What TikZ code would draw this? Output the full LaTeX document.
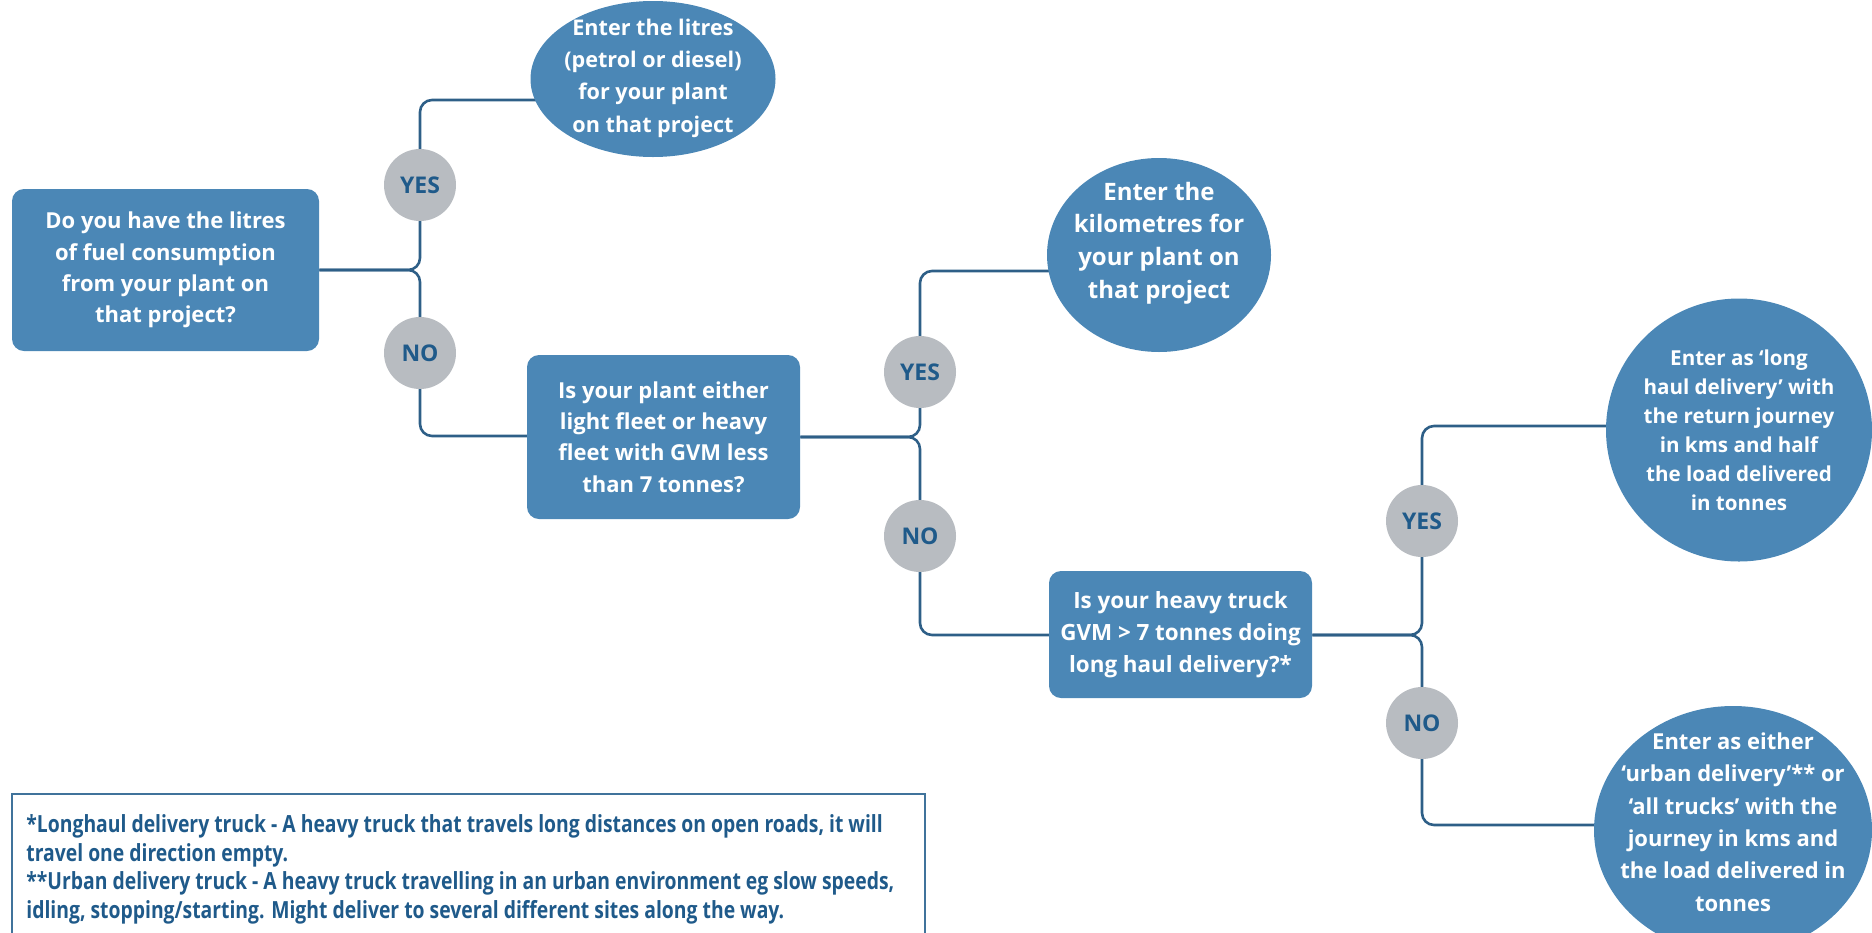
\documentclass[tikz,border=0pt]{standalone}
\usepackage{fontspec}
\setmainfont{Open Sans}
\newfontfamily\notefont{Open Sans}[FakeStretch=0.82]
\usetikzlibrary{shapes.geometric,backgrounds}
\definecolor{fleetblue}{HTML}{4B87B6}
\definecolor{linkblue}{HTML}{2E5F87}
\definecolor{answergrey}{HTML}{B8BCC1}
\definecolor{answertext}{HTML}{1F5A8A}
\tikzset{
  boxtext/.style={font=\bfseries\fontsize{11}{15.6}\selectfont},
  widetext/.style={font=\bfseries\fontsize{11.2}{16}\selectfont},
  smalltext/.style={font=\bfseries\fontsize{10.3}{14.5}\selectfont},
  question/.style={fill=fleetblue, rounded corners=6pt, text=white, align=center, inner sep=0pt},
  entry/.style={ellipse, fill=fleetblue, text=white, align=center, inner sep=-14pt},
  entrytext/.style={text=white, align=center, inner sep=0pt},
  answer/.style={circle, fill=answergrey, text=answertext, minimum size=36pt, inner sep=0pt,
    font=\bfseries\fontsize{11.5}{13}\selectfont},
  link/.style={draw=linkblue, line width=1.3pt, rounded corners=6pt},
}
\begin{document}
\begin{tikzpicture}[x=0.5pt, y=-0.5pt]
		%%%%% START %%%%%
		\useasboundingbox (0,0) rectangle (1872,932);
		
		\node[question, boxtext, minimum width=153.5pt, minimum height=81pt] (fuel) at (165.5,270) {Do you have the litres\\of fuel consumption\\from your plant on\\that project?};
		\node[question, boxtext, minimum width=136.5pt, minimum height=82pt] (fleet) at (663.5,437) {Is your plant either\\light fleet or heavy\\fleet with GVM less\\than 7 tonnes?};
		\node[question, widetext, minimum width=131.5pt, minimum height=63.5pt] (haul) at (1180.5,634.5) {Is your heavy truck\\GVM > 7 tonnes doing\\long haul delivery?*};
		
		\node[entry, minimum width=122.5pt, minimum height=78pt] (litres) at (653,79) {};
		\node[entrytext, font=\bfseries\fontsize{10.8}{16.2}\selectfont] (litrestext) at (653,78) {Enter the litres\\(petrol or diesel)\\for your plant\\on that project};
		\node[entry, minimum width=112pt, minimum height=97pt] (kms) at (1159,255) {};
		\node[entrytext, font=\bfseries\fontsize{12}{16.3}\selectfont] (kmstext) at (1159,243) {Enter the\\kilometres for\\your plant on\\that project};
		\node[entry, smalltext, minimum width=133pt, minimum height=131.5pt] (longhaul) at (1739,430) {Enter as ‘long\\haul delivery’ with\\the return journey\\in kms and half\\the load delivered\\in tonnes};
		\node[entry, minimum width=139pt, minimum height=124pt] (urban) at (1733,830) {};
		\node[entrytext, font=\bfseries\fontsize{11}{16.2}\selectfont] (urbantext) at (1733,822) {Enter as either\\‘urban delivery’** or\\‘all trucks’ with the\\journey in kms and\\the load delivered in\\tonnes};
		
		\coordinate (fuelfork) at (420,270);
		\coordinate (fuelup) at (420,100);
		\coordinate (fueldown) at (420,436);
		\coordinate (fleetfork) at (920,437);
		\coordinate (fleetup) at (920,271);
		\coordinate (fleetdown) at (920,635);
		\coordinate (haulfork) at (1422,635);
		\coordinate (haulup) at (1422,426);
		\coordinate (hauldown) at (1422,825);
		
		\begin{scope}[on background layer]
		\draw[link] (fuel.east) -- (fuelfork) -- (fuelup) -- (litres.center |- fuelup);
		\draw[link] (fuel.east) -- (fuelfork) -- (fueldown) -- (fleet.center |- fueldown);
		\draw[link] (fleet.east |- fleetfork) -- (fleetfork) -- (fleetup) -- (kms.center |- fleetup);
		\draw[link] (fleet.east |- fleetfork) -- (fleetfork) -- (fleetdown) -- (haul.center |- fleetdown);
		\draw[link] (haul.east |- haulfork) -- (haulfork) -- (haulup) -- (longhaul.center |- haulup);
		\draw[link] (haul.east |- haulfork) -- (haulfork) -- (hauldown) -- (urban.center |- hauldown);
		\end{scope}
		
		\node[answer] (fuelyes) at (420,185) {YES};
		\node[answer] (fuelno) at (420,353) {NO};
		\node[answer] (fleetyes) at (920,372) {YES};
		\node[answer] (fleetno) at (920,536) {NO};
		\node[answer] (haulyes) at (1422,521) {YES};
		\node[answer] (haulno) at (1422,723) {NO};
		
		\draw[draw=fleetblue!85!black, line width=0.9pt] (12,794) rectangle (925,950);
		\node[anchor=north west, inner sep=0pt, align=left, text=answertext,
		  font=\notefont\bfseries\fontsize{11.8}{14.4}\selectfont] (note) at (26,814)
		  {*Longhaul delivery truck - A heavy truck that travels long distances on open roads, it will\\
		   travel one direction empty.\\
		   **Urban delivery truck - A heavy truck travelling in an urban environment eg slow speeds,\\
		   idling, stopping/starting. Might deliver to several different sites along the way.};
		%%%%% END %%%%%
\end{tikzpicture}
\end{document}
